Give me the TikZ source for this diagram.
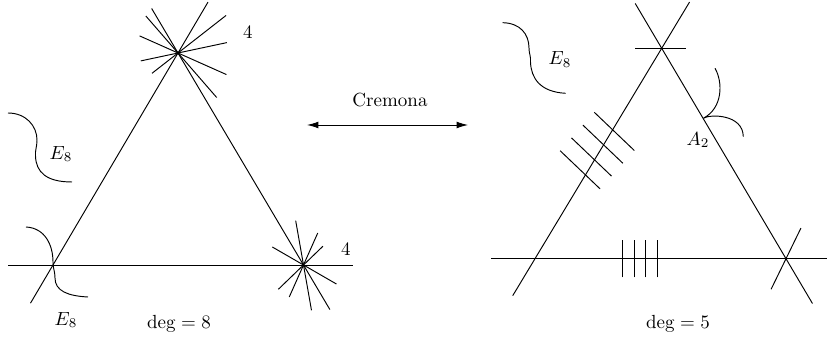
\documentclass[tikz,border=0pt]{standalone}
\usepackage{amsmath,amssymb}
\usetikzlibrary{arrows.meta,calc}

\begin{document}
\begin{tikzpicture}[x=0.526pt,y=0.526pt,line width=0.5pt]

\useasboundingbox (0,0) rectangle (827,340);

% Vertices of the two triangles
\coordinate (lt) at (178,287);
\coordinate (ll) at (53,75);
\coordinate (lr) at (303.5,75);
\coordinate (rt) at (661.7,291.7);
\coordinate (rl) at (535,81.3);
\coordinate (rr) at (786,81.3);

% Left triangle (deg = 8)
\draw (8,75) -- (353,75);
\draw ($(ll)!-0.18!(lt)$) -- ($(ll)!1.24!(lt)$);
\draw ($(lt)!-0.21!(lr)$) -- ($(lt)!1.21!(lr)$);

% Four extra lines through the top and the right vertex
\foreach \a/\p/\q in {131/49/59, 156/42/53, 192/38/50, 218/33/61}
  \draw (lt) ++(\a:\p) -- ++(\a+180:\p+\q);
\foreach \a/\p/\q in {100/45/46, 66/35/35, 44/27/35, 150/36/38}
  \draw (lr) ++(\a:\p) -- ++(\a+180:\p+\q);

\node (fourt) at (248,308) {4};
\node (fourr) at (346,91) {4};

% E8 curves on the left
\draw (8,227) .. controls (26,227) and (37,214) .. (37,200)
  .. controls (37,193) and (35,190) .. (35.5,184)
  .. controls (36,168) and (46,158) .. (72,158);
\node (eighta) at (61,186) {$E_8$};
\draw (26,113) .. controls (45,112) and (53,95) .. (53,78)
  .. controls (53,71) and (55,69) .. (55,62)
  .. controls (55,49) and (68,44) .. (88,43);
\node (eightb) at (66,20) {$E_8$};

\node (degl) at (179,16) {$\deg = 8$};

% Cremona map
\coordinate (arrl) at (307,215);
\coordinate (arrr) at (468,215);
\draw[{Latex[length=6pt,width=3.6pt]}-{Latex[length=6pt,width=3.6pt]}] (arrl) -- (arrr);
\node (crem) at (390,239.5) {Cremona};

% Right triangle (deg = 5)
\draw (491,81.3) -- (827,81.3);
\draw ($(rl)!-0.176!(rt)$) -- ($(rl)!1.22!(rt)$);
\draw ($(rt)!-0.213!(rr)$) -- ($(rt)!1.213!(rr)$);

% Short lines at the vertices
\draw (rt) ++(-26.7,0) -- ++(51,0);
\draw (rr) ++(64:34) -- ++(244:68);

% Four ticks on the base and on the left side
\foreach \i in {0,...,3}
  \draw ({622.7+11.5*\i},62.7) -- ++(0,37.3);
\foreach \i in {0,...,3}
  \draw ({594.3-11.4*\i},{227.7-12.8*\i}) -- ++(40,-38.2);

% E8 and A2 curves on the right
\draw (502.7,317.3) .. controls (520,317) and (529,306) .. (529,292)
  .. controls (529,286) and (531,284) .. (530.5,278)
  .. controls (531,262) and (540,248) .. (565.7,246.7);
\node (eightc) at (560,280.7) {$E_8$};
\draw (715,271.7) .. controls (723,258) and (723,232) .. (703.3,221.7)
  .. controls (710,226) and (743,226) .. (743.3,203.3);
\node (atwo) at (698,200) {$A_2$};

\node (degr) at (678,16) {$\deg = 5$};

\end{tikzpicture}
\end{document}
